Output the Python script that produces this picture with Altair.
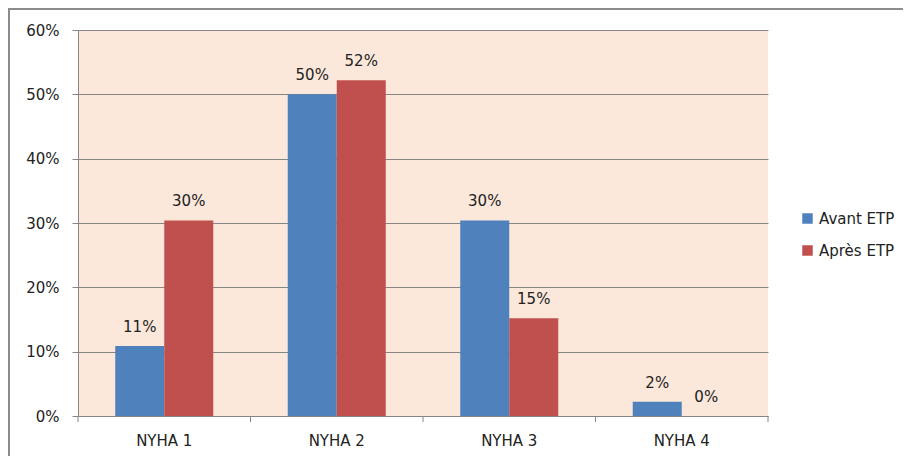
import altair as alt
import pandas as pd

categories = ["NYHA 1", "NYHA 2", "NYHA 3", "NYHA 4"]
series = ["Avant ETP", "Après ETP"]
avant = [0.109, 0.500, 0.304, 0.022]
apres = [0.304, 0.522, 0.152, 0.0]
avant_labels = ["11%", "50%", "30%", "2%"]
apres_labels = ["30%", "52%", "15%", "0%"]
colors = ["#4F81BD", "#C0504D"]

rows = []
for i, c in enumerate(categories):
    rows.append({"cat": c, "serie": series[0], "val": avant[i], "lab": avant_labels[i]})
    rows.append({"cat": c, "serie": series[1], "val": apres[i], "lab": apres_labels[i]})
df = pd.DataFrame(rows)

FONT = "DejaVu Sans"
W, H = 690, 386

xenc = alt.X("cat:N", sort=categories, title=None,
             scale=alt.Scale(paddingInner=0, paddingOuter=0),
             axis=alt.Axis(labelAngle=0, ticks=False, domainColor="#868686",
                           labelFont=FONT, labelFontSize=15, labelColor="#222222",
                           labelPadding=17, grid=False))
xoff = alt.XOffset("serie:N", sort=series,
                   scale=alt.Scale(paddingInner=0, paddingOuter=0.76))
yenc = alt.Y("val:Q", title=None,
             scale=alt.Scale(domain=[0, 0.6], nice=False),
             axis=alt.Axis(values=[0, 0.1, 0.2, 0.3, 0.4, 0.5, 0.6], format=".0%",
                           tickSize=6, tickColor="#868686", domainColor="#868686",
                           gridColor="#868686", labelFont=FONT, labelFontSize=15,
                           labelColor="#222222", labelPadding=13))

bars = alt.Chart(df).mark_bar().encode(
    x=xenc, xOffset=xoff, y=yenc,
    color=alt.Color("serie:N", sort=series, title=None,
                    scale=alt.Scale(domain=series, range=colors),
                    legend=alt.Legend(orient="none", legendX=722, legendY=181,
                                      symbolType="square", symbolSize=110,
                                      symbolStrokeWidth=0,
                                      labelFont=FONT, labelFontSize=15,
                                      labelColor="#222222", rowPadding=16)),
)

texts = alt.Chart(df).mark_text(dy=-19, font=FONT, fontSize=15, color="#222222").encode(
    x=alt.X("cat:N", sort=categories), xOffset=alt.XOffset("serie:N", sort=series),
    y="val:Q", text="lab:N",
)

tick_df = pd.DataFrame({"cat": categories})
ticks = alt.Chart(tick_df).mark_rule(color="#868686").encode(
    x=alt.X("cat:N", sort=categories, bandPosition=0),
    y=alt.value(H), y2=alt.value(H + 6),
)
end_tick = alt.Chart(pd.DataFrame({"a": [1]})).mark_rule(color="#868686").encode(
    x=alt.value(W), y=alt.value(H), y2=alt.value(H + 6),
)

border = alt.Chart(pd.DataFrame({"a": [1]})).mark_rect(
    fill=None, stroke="#8C8C8C", strokeWidth=2
).encode(
    x=alt.value(-69), x2=alt.value(830), y=alt.value(-21), y2=alt.value(460),
)

chart = alt.layer(bars, texts, ticks, end_tick, border).properties(
    width=W, height=H,
    autosize=alt.AutoSizeParams(type="none"),
    padding={"left": 70, "top": 22, "right": 135, "bottom": 40},
).configure_view(fill="#FCE8DA", stroke=None).configure_axis(gridWidth=1)

chart.save("out.html", embed_options={"renderer": "svg", "actions": False})
